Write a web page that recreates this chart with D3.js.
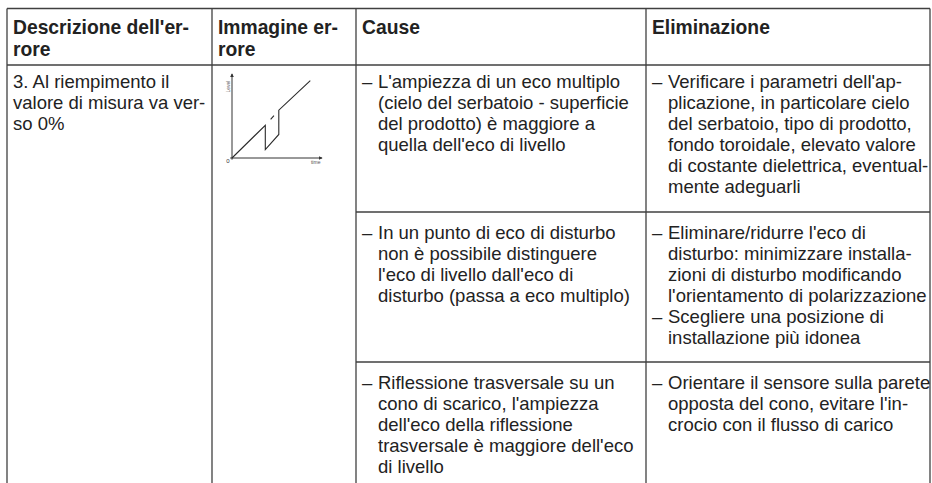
<!DOCTYPE html>
<html><head><meta charset="utf-8">
<script src="https://cdn.jsdelivr.net/npm/d3@7"></script>
<style>
html,body{margin:0;padding:0;background:#fff;}
svg text{font-family:"Liberation Sans",Arial,Helvetica,sans-serif;fill:#222;}
</style></head><body>
<svg id="c" width="932" height="483"></svg>
<script>
// ---- data ----
const headers = [["Descrizione dell'er-","rore"],["Immagine er-","rore"],["Cause"],["Eliminazione"]];
const errorDescription = ["3. Al riempimento il","valore di misura va ver-","so 0%"];
const causes = [
  [["L'ampiezza di un eco multiplo","(cielo del serbatoio - superficie","del prodotto) è maggiore a","quella dell'eco di livello"]],
  [["In un punto di eco di disturbo","non è possibile distinguere","l'eco di livello dall'eco di","disturbo  (passa a eco multiplo)"]],
  [["Riflessione trasversale su un","cono di scarico, l'ampiezza","dell'eco della riflessione","trasversale è maggiore dell'eco","di livello"]]
];
const remedies = [
  [["Verificare i parametri dell'ap-","plicazione, in particolare cielo","del serbatoio, tipo di prodotto,","fondo toroidale, elevato valore","di costante dielettrica, eventual-","mente adeguarli"]],
  [["Eliminare/ridurre l'eco di","disturbo: minimizzare installa-","zioni di disturbo modificando","l'orientamento di polarizzazione"],["Scegliere una posizione di","installazione più idonea"]],
  [["Orientare il sensore sulla parete","opposta del cono, evitare l'in-","crocio con il flusso di carico"]]
];
// mini chart (time, level) in percent of axis
const measTime  = [0, 37, 37, 52, 52, 87];
const measLevel = [0, 39, 10, 28, 57, 92];
const gapTime   = [37, 52];
const gapLevel  = [39, 57];
const axisLabels = {x:"time", y:"Level", origin:"0"};

// ---- layout ----
const svg = d3.select("#c");
const colX = [7, 212, 356, 646, 930];
const rowY = [8.5, 65, 212, 362, 483];
const rowBase = [25, 23, 26.5, 26.5];
const FS = 18.5, LH = 21;
const lineCol = "#404040";

// borders
const g = svg.append("g");
g.append("line").attr("x1",colX[0]).attr("x2",colX[4]).attr("y1",rowY[0]).attr("y2",rowY[0]);
g.append("line").attr("x1",colX[0]).attr("x2",colX[4]).attr("y1",rowY[1]).attr("y2",rowY[1]);
g.append("line").attr("x1",colX[2]).attr("x2",colX[4]).attr("y1",rowY[2]).attr("y2",rowY[2]);
g.append("line").attr("x1",colX[2]).attr("x2",colX[4]).attr("y1",rowY[3]).attr("y2",rowY[3]);
colX.forEach(x=>g.append("line").attr("x1",x).attr("x2",x).attr("y1",rowY[0]).attr("y2",483));
g.selectAll("line").attr("stroke",lineCol).attr("stroke-width",1.3);

// header
headers.forEach((h,i)=>{
  const t = svg.append("text").attr("font-size",19.3).attr("font-weight","bold");
  h.forEach((s,j)=>t.append("tspan").attr("x",colX[i]+6).attr("y",rowY[0]+rowBase[0]+j*22).text(s));
});
// description
const td = svg.append("text").attr("font-size",FS);
errorDescription.forEach((s,j)=>td.append("tspan").attr("x",colX[0]+6).attr("y",rowY[1]+rowBase[1]+j*LH).text(s));

function list(items, col, r){
  let y = rowY[r] + rowBase[r];
  items.forEach((item)=>{
    svg.append("text").attr("font-size",FS).attr("x",colX[col]+6).attr("y",y).text("–");
    const t = svg.append("text").attr("font-size",FS);
    item.forEach((s)=>{ t.append("tspan").attr("x",colX[col]+22).attr("y",y).text(s); y+=LH; });
  });
}
causes.forEach((c,i)=>list(c,2,i+1));
remedies.forEach((c,i)=>list(c,3,i+1));

// ---- mini chart ----
const x = d3.scaleLinear().domain([0,100]).range([232,322]);
const y = d3.scaleLinear().domain([0,100]).range([158,74]);
const cg = svg.append("g");
const defs = svg.append("defs");
defs.append("marker").attr("id","arr").attr("viewBox","0 0 6 6").attr("refX",5).attr("refY",3)
  .attr("markerWidth",4).attr("markerHeight",4).attr("orient","auto")
  .append("path").attr("d","M0,0L6,3L0,6Z").attr("fill","#333");
cg.append("line").attr("x1",x(-2)).attr("x2",x(100)).attr("y1",y(0)).attr("y2",y(0))
  .attr("stroke","#333").attr("stroke-width",1).attr("marker-end","url(#arr)");
cg.append("line").attr("x1",x(0)).attr("x2",x(0)).attr("y1",y(-2)).attr("y2",y(100))
  .attr("stroke","#333").attr("stroke-width",1).attr("marker-end","url(#arr)");
const ln = d3.line().x(d=>x(d[0])).y(d=>y(d[1]));
cg.append("path").attr("d",ln(measTime.map((t,i)=>[t,measLevel[i]])))
  .attr("fill","none").attr("stroke","#2a2a2a").attr("stroke-width",1.1);
cg.append("path").attr("d",ln(gapTime.map((t,i)=>[t,gapLevel[i]])))
  .attr("fill","none").attr("stroke","#2a2a2a").attr("stroke-width",1.1).attr("stroke-dasharray","0 8 5 30");
cg.append("text").attr("x",x(0)-4).attr("y",y(0)+5).attr("font-size",6).attr("text-anchor","middle").style("fill","#333").text(axisLabels.origin);
cg.append("text").attr("x",x(93)).attr("y",y(0)+6).attr("font-size",5).attr("text-anchor","middle").style("fill","#555").text(axisLabels.x);
cg.append("text").attr("transform",`translate(${x(0)-2},${y(85)}) rotate(-90)`).attr("font-size",5).attr("text-anchor","middle").style("fill","#555").text(axisLabels.y);
</script></body></html>
